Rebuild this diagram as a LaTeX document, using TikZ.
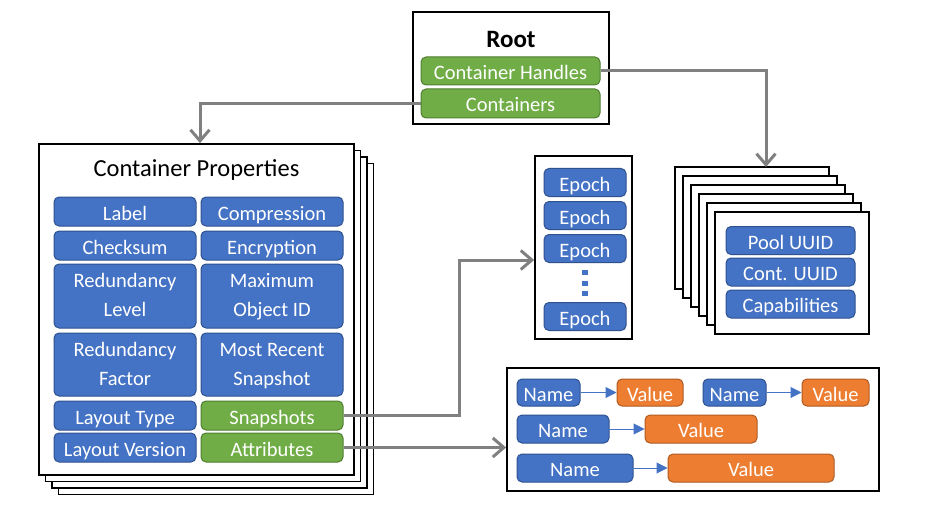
\documentclass[tikz,border=0pt]{standalone}
\usepackage{fontspec}
\setmainfont{Carlito}
\usetikzlibrary{arrows.meta}
\definecolor{cellblue}{HTML}{4472C4}
\definecolor{cellblueline}{HTML}{2F528F}
\definecolor{cellgreen}{HTML}{70AD47}
\definecolor{cellgreenline}{HTML}{507E32}
\definecolor{cellorange}{HTML}{ED7D31}
\definecolor{cellorangeline}{HTML}{AE5A21}
\definecolor{linkgray}{HTML}{808080}
\begin{document}
\begin{tikzpicture}[x=1pt,y=-1pt,
    cell/.style={rounded corners=5pt, line width=1pt, text=white, inner sep=0pt,
      align=center, font=\fontsize{20.5}{29}\selectfont, text height=18pt, text depth=1pt},
    twoline/.style={text height=42pt, text depth=1pt},
    bluecell/.style={cell, fill=cellblue, draw=cellblueline},
    greencell/.style={cell, fill=cellgreen, draw=cellgreenline},
    orangecell/.style={cell, fill=cellorange, draw=cellorangeline},
    sheet/.style={draw=black, line width=1.8pt, fill=white, inner sep=0pt},
    link/.style={draw=linkgray, line width=3pt, -{Straight Barb[length=11pt,width=19pt]}},
    pair/.style={draw=cellblue, line width=1pt, -{Triangle[length=11pt,width=11pt]}}]
    \useasboundingbox (0,0) rectangle (936,505);
    % Root
    \node[sheet, minimum width=196pt, minimum height=112pt] (root) at (511,68) {};
    \node[font=\fontsize{25}{30}\selectfont\bfseries] (roottitle) at (511,39) {Root};
    \node[greencell, minimum width=179pt, minimum height=28pt] (handles) at (510.5,71) {Container Handles};
    \node[greencell, minimum width=179pt, minimum height=29pt] (conts) at (510.5,103.5) {Containers};
    % Container Properties (stack)
    \foreach \i in {3,2,1} {
      \draw[sheet] (39+6.5*\i,144+6.5*\i) rectangle (354+6.5*\i,475+6.5*\i);
    }
    \node[sheet, minimum width=315pt, minimum height=331pt] (props) at (196.5,309.5) {};
    \node[font=\fontsize{24.5}{30}\selectfont] (propstitle) at (196.5,170) {Container Properties};
    \node[bluecell, minimum width=142pt, minimum height=29pt] (label) at (125,211.5) {Label};
    \node[bluecell, minimum width=142pt, minimum height=29pt] (compr) at (272,211.5) {Compression};
    \node[bluecell, minimum width=142pt, minimum height=29pt] (csum) at (125,245.5) {Checksum};
    \node[bluecell, minimum width=142pt, minimum height=29pt] (encr) at (272,245.5) {Encryption};
    \node[bluecell, twoline, minimum width=142pt, minimum height=64pt] (rlvl) at (125,296) {Redundancy\\Level};
    \node[bluecell, twoline, minimum width=142pt, minimum height=64pt] (maxoid) at (272,296) {Maximum\\Object ID};
    \node[bluecell, twoline, minimum width=142pt, minimum height=63pt] (rfac) at (125,364.5) {Redundancy\\Factor};
    \node[bluecell, twoline, minimum width=142pt, minimum height=63pt] (recent) at (272,364.5) {Most Recent\\Snapshot};
    \node[bluecell, minimum width=142pt, minimum height=29pt] (ltype) at (125,415.5) {Layout Type};
    \node[greencell, minimum width=142pt, minimum height=29pt] (snaps) at (272,415.5) {Snapshots};
    \node[bluecell, minimum width=142pt, minimum height=29pt] (lver) at (125,447.5) {Layout Version};
    \node[greencell, minimum width=142pt, minimum height=29pt] (attrs) at (272,447.5) {Attributes};
    % Epochs
    \node[sheet, minimum width=97pt, minimum height=183pt] (epochs) at (583.5,247.5) {};
    \node[bluecell, minimum width=82pt, minimum height=28pt] (ep1) at (585,182.5) {Epoch};
    \node[bluecell, minimum width=82pt, minimum height=28pt] (ep2) at (585,215.5) {Epoch};
    \node[bluecell, minimum width=82pt, minimum height=28pt] (ep3) at (585,248.5) {Epoch};
    \foreach \y in {272,283,293} {
      \fill[cellblue] (582,\y-2.5) rectangle (588,\y+2.5);
    }
    \node[bluecell, minimum width=82pt, minimum height=28pt] (ep4) at (585,316.5) {Epoch};
    % Container handles (stack)
    \foreach \i in {0,...,4} {
      \draw[sheet] (675+8*\i,167+9*\i) rectangle (829+8*\i,289+9*\i);
    }
    \node[sheet, minimum width=154pt, minimum height=122pt] (hdl) at (792,273) {};
    \node[bluecell, minimum width=129pt, minimum height=28pt] (pool) at (790.5,240.5) {Pool UUID};
    \node[bluecell, minimum width=129pt, minimum height=28pt] (cont) at (790.5,272) {Cont. UUID};
    \node[bluecell, minimum width=129pt, minimum height=28pt] (caps) at (790.5,304) {Capabilities};
    % Attributes
    \node[sheet, minimum width=372pt, minimum height=123pt] (abox) at (693,429.5) {};
    \node[bluecell, minimum width=63pt, minimum height=27pt] (n1) at (548.5,392.5) {Name};
    \node[orangecell, minimum width=66pt, minimum height=27pt] (v1) at (650,392.5) {Value};
    \node[bluecell, minimum width=63pt, minimum height=27pt] (n2) at (734.5,392.5) {Name};
    \node[orangecell, minimum width=67pt, minimum height=27pt] (v2) at (835.5,392.5) {Value};
    \node[bluecell, minimum width=92pt, minimum height=28pt] (n3) at (563,429) {Name};
    \node[orangecell, minimum width=112pt, minimum height=28pt] (v3) at (701,429) {Value};
    \node[bluecell, minimum width=116pt, minimum height=28pt] (n4) at (575,468) {Name};
    \node[orangecell, minimum width=166pt, minimum height=28pt] (v4) at (751,468) {Value};
    \draw[pair] (n1) -- (v1);
    \draw[pair] (n2) -- (v2);
    \draw[pair] (n3) -- (v3);
    \draw[pair] (n4) -- (v4);
    % Links
    \coordinate (cbend) at (200,103.5);
    \draw[link] (conts.west) -- (cbend) -- (cbend |- props.north);
    \coordinate (hbend) at (766,71);
    \draw[link] (handles.east) -- (hbend) -- (766,167);
    \coordinate (sbend) at (459,260);
    \draw[link] (snaps.east) -| (sbend) -- (sbend -| epochs.west);
    \draw[link] (attrs.east) -- (attrs.east -| abox.west);
\end{tikzpicture}
\end{document}
